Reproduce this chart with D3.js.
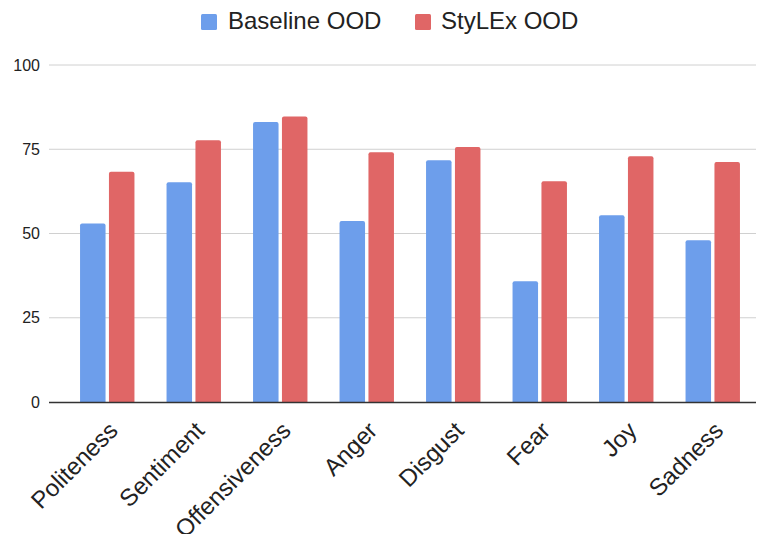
<!DOCTYPE html>
<html>
<head>
<meta charset="utf-8">
<script src="https://cdn.jsdelivr.net/npm/d3@7"></script>
<style>
  html, body { margin: 0; padding: 0; background: #fff; }
  svg { display: block; font-family: "Liberation Sans", Arial, Helvetica, sans-serif; }
</style>
</head>
<body>
<svg id="chart" width="758" height="534"></svg>
<script>
const categories = ["Politeness", "Sentiment", "Offensiveness", "Anger", "Disgust", "Fear", "Joy", "Sadness"];
const seriesNames = ["Baseline OOD", "StyLEx OOD"];
const baselineValues = [53.0, 65.2, 83.1, 53.7, 71.7, 35.8, 55.4, 48.0];
const stylexValues = [68.3, 77.7, 84.7, 74.1, 75.7, 65.5, 72.9, 71.2];
const yTickValues = [0, 25, 50, 75, 100];
const colors = ["#6d9eeb", "#e06666"];

const svg = d3.select("#chart");

const gridLeft = 49, plotLeft = 64, plotRight = 756;
const yTop = 65, yBottom = 402;

const y = d3.scaleLinear().domain([0, 100]).range([yBottom, yTop]);
const x0 = d3.scaleBand().domain(categories).range([plotLeft, plotRight])
  .paddingInner(0.371).paddingOuter(0.1855);
const x1 = d3.scaleBand().domain(seriesNames).range([0, x0.bandwidth()])
  .paddingInner(0.1176).paddingOuter(0);

// gridlines
svg.append("g").selectAll("line").data(yTickValues.filter(d => d !== 0)).join("line")
  .attr("x1", gridLeft).attr("x2", plotRight)
  .attr("y1", d => y(d)).attr("y2", d => y(d))
  .attr("stroke", "#d0d0d0").attr("stroke-width", 1);

// y tick labels
svg.append("g").selectAll("text").data(yTickValues).join("text")
  .attr("x", 40).attr("y", d => y(d))
  .attr("dy", "0.35em")
  .attr("text-anchor", "end")
  .attr("font-size", 16)
  .attr("fill", "#222")
  .text(d => d);

// bars
const rows = categories.map((c, i) => ({ cat: c, vals: [baselineValues[i], stylexValues[i]] }));
const groups = svg.append("g").selectAll("g").data(rows).join("g")
  .attr("transform", d => `translate(${x0(d.cat)},0)`);
groups.selectAll("path").data(d => d.vals.map((v, j) => ({ v, s: seriesNames[j], j }))).join("path")
  .attr("fill", d => colors[d.j])
  .attr("d", d => {
    const bx = x1(d.s), w = x1.bandwidth(), top = y(d.v), bot = y(0), r = 2;
    return `M${bx},${bot} L${bx},${top + r} Q${bx},${top} ${bx + r},${top} L${bx + w - r},${top} Q${bx + w},${top} ${bx + w},${top + r} L${bx + w},${bot} Z`;
  });

// x axis line
svg.append("line")
  .attr("x1", gridLeft).attr("x2", plotRight)
  .attr("y1", y(0) + 0.5).attr("y2", y(0) + 0.5)
  .attr("stroke", "#333").attr("stroke-width", 1.5);

// x labels
svg.append("g").selectAll("text").data(categories).join("text")
  .attr("transform", d => `translate(${x0(d) + x0.bandwidth() / 2 + 12},${432}) rotate(-45)`)
  .attr("text-anchor", "end")
  .attr("font-size", 24)
  .attr("fill", "#222")
  .text(d => d);

// legend
const legendItems = [
  { name: seriesNames[0], color: colors[0], sx: 201, tx: 228 },
  { name: seriesNames[1], color: colors[1], sx: 415, tx: 441 }
];
const lg = svg.append("g").selectAll("g").data(legendItems).join("g");
lg.append("rect")
  .attr("x", d => d.sx).attr("y", 14).attr("width", 16).attr("height", 16).attr("rx", 1.5)
  .attr("fill", d => d.color);
lg.append("text")
  .attr("x", d => d.tx).attr("y", 29)
  .attr("font-size", 24).attr("fill", "#222")
  .text(d => d.name);
</script>
</body>
</html>
